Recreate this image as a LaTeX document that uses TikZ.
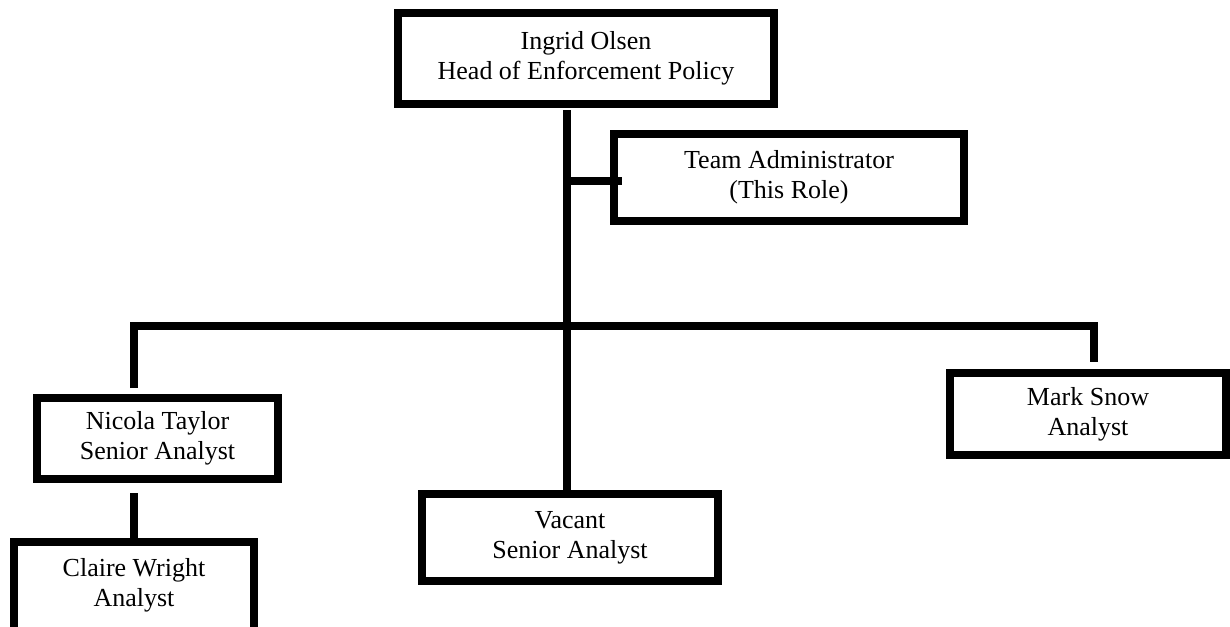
\documentclass[tikz,border=0pt]{standalone}
\usepackage{fontspec}
\setmainfont{Liberation Serif}
\begin{document}
\begin{tikzpicture}[x=1pt,y=-1pt,
  txt/.style={align=center, font=\fontsize{26}{30}\selectfont},
  person/.style={draw=black, line width=8pt, inner sep=0pt, outer sep=4pt, txt},
  link/.style={draw=black, line width=8pt, line join=miter}]
\useasboundingbox (0,0) rectangle (1230,626);
\node[person, minimum width=376pt, minimum height=91pt] (ingrid) at (586,58.5)
  {Ingrid Olsen\\Head of Enforcement Policy};
\node[person, minimum width=350pt, minimum height=87pt] (team) at (789,177.5)
  {Team Administrator\\(This Role)};
\node[person, minimum width=241pt, minimum height=81pt] (nicola) at (157.5,438.5)
  {Nicola Taylor\\Senior Analyst};
\node[person, minimum width=240pt, minimum height=98pt,
  label={[txt, yshift=6pt]center:Claire Wright\\Analyst}] (claire) at (134,591) {};
\node[person, minimum width=296pt, minimum height=87pt] (vacant) at (570,537.5)
  {Vacant\\Senior Analyst};
\node[person, minimum width=276pt, minimum height=82pt] (mark) at (1088,414)
  {Mark Snow\\Analyst};
\coordinate (tk) at (567,0);
\coordinate (tj) at (567,180.5);
\coordinate (bl) at (134,326);
\coordinate (br) at (1094,326);
\draw[link] ([yshift=-2pt]ingrid.south -| tk) -- (vacant.north -| tk);
\draw[link] (tj) -- ([xshift=12pt]tj -| team.west);
\draw[link] ([yshift=6pt]nicola.north -| bl) -- (bl) -- (br) -- ([yshift=7pt]mark.north -| br);
\draw[link] ([yshift=-10pt]nicola.south -| claire.north) -- (claire.north);
\end{tikzpicture}
\end{document}
